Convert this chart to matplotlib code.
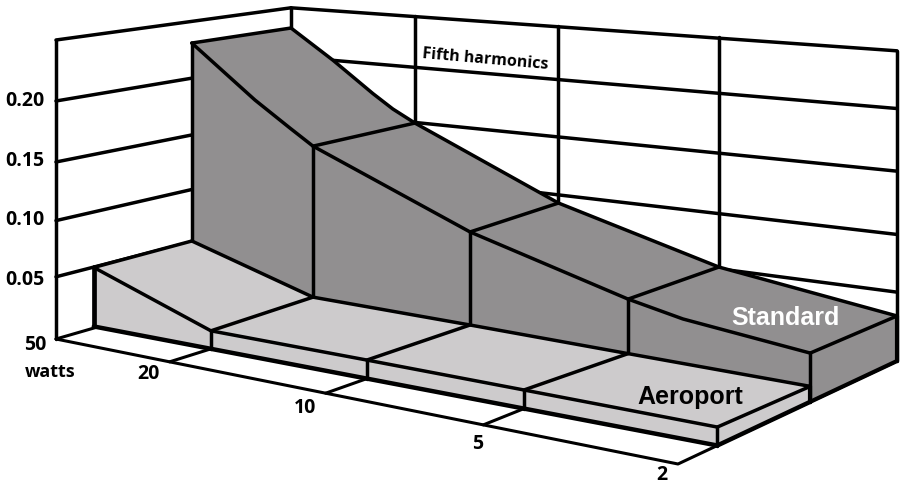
import numpy as np
import matplotlib
matplotlib.use('Agg')
import matplotlib.pyplot as plt


# Categories and axis labels
watts = ['50', '20', '10', '5', '2']
value_ticks = ['0.05', '0.10', '0.15', '0.20']

# Wall levels (the two walls do not agree exactly in the drawing)
left_wall_levels = [0.052, 0.099, 0.148, 0.199, 0.25]
back_wall_levels = [0.0555, 0.102, 0.153, 0.2035, 0.25]

# Position of each category along the floor, at each depth
u_front = [-0.007, 0.2274, 0.502, 0.743, 1.0]
u_mid = [-0.009, 0.233, 0.51, 0.754, 1.0]
u_back = [0.0, 0.247, 0.502, 0.754, 1.0]

# Depth of the rows
v_front = 0.16
v_mid = 0.57
v_back = 1.0

# Aeroport values
aeroport_front = [0.0505, 0.0148, 0.0145, 0.0139, 0.0131]
aeroport_back = [0.0512, 0.0182, 0.0162, 0.0139, 0.0117]

# Standard values, with a few extra points where the curve bends
standard_front_u = [-0.009, 0.1205, 0.189, 0.233, 0.51, 0.754, 0.8317, 1.0]
standard_front = [0.2298, 0.1841, 0.1627, 0.1492, 0.0932, 0.0571, 0.048, 0.0369]
standard_back_u = [0.0, 0.0868, 0.1664, 0.205, 0.247, 0.502, 0.754, 1.0]
standard_back = [0.2308, 0.2034, 0.1755, 0.1630, 0.1521, 0.0945, 0.0568, 0.0363]

# Column of each category in the standard curves
front_cols = [0, 3, 4, 5, 7]
back_cols = [0, 4, 5, 6, 7]

dark = '#918f90'
light = '#cdcbcc'


# Floor corners in pixels: front left, front right, back right, back left
corners = [(56, 339), (678, 464), (897, 361), (291, 271)]
(x0, y0), (x1, y1), (x2, y2), (x3, y3) = corners
den = (x1 - x2) * (y3 - y2) - (x3 - x2) * (y1 - y2)
sx = x0 - x1 + x2 - x3
sy = y0 - y1 + y2 - y3
g = (sx * (y3 - y2) - (x3 - x2) * sy) / den
h = ((x1 - x2) * sy - sx * (y1 - y2)) / den


def project(u, v, z=0.0):
    w = 1 + g * u + h * v
    x = ((x1 - x0 + g * x1) * u + (x3 - x0 + h * x3) * v + x0) / w
    y = ((y1 - y0 + g * y1) * u + (y3 - y0 + h * y3) * v + y0) / w
    return x, y - z * 1196 / (1 - 0.172 * u + 0.136 * v)


def row(us, v, zs=None):
    if zs is None:
        zs = [0.0] * len(us)
    return [project(u, v, z) for u, z in zip(us, zs)]


def line(pts, lw=2.5, zorder=3):
    xs, ys = zip(*pts)
    ax.plot(xs, ys, color='black', lw=lw, zorder=zorder,
            solid_capstyle='round', solid_joinstyle='round')


def patch(pts, color, zorder):
    xs, ys = zip(*pts)
    ax.fill(xs, ys, color=color, lw=0, zorder=zorder)


fig = plt.figure(figsize=(9, 4.87), dpi=100)
ax = fig.add_axes([0, 0, 1, 1])
ax.set_xlim(0, 900)
ax.set_ylim(487, 0)
ax.axis('off')


# Walls and grid
for level in left_wall_levels:
    line([project(0, 0, level), project(0, 1, level)], zorder=1)
for level in back_wall_levels:
    line([project(0, 1, level), project(1, 1, level)], zorder=1)
line([project(0, 0, 0), project(0, 0, 0.25)], zorder=1)
for u in u_back:
    line([project(u, 1, 0), project(u, 1, 0.25)], zorder=1)

# Floor and ticks
line([project(0, 0), project(1, 0), project(1, 1)], lw=2.2, zorder=1)
line([project(0, 0), project(0, v_front)], lw=2.2, zorder=1)
for u in u_front[1:-1]:
    line([project(u, 0), project(u, v_front)], lw=2.2, zorder=1)

# Standard block
top_front = row(standard_front_u, v_mid, standard_front)
top_back = row(standard_back_u, v_back, standard_back)
base_mid = row(standard_front_u, v_mid)
patch(top_front + top_back[::-1], dark, 2)
patch(top_front + base_mid[::-1], dark, 2)
patch([project(1, v_mid, standard_front[-1]), project(1, v_back, standard_back[-1]),
       project(1, v_back), project(1, v_mid)], dark, 2)
line(top_front)
line(top_back)
line([project(1, v_mid), project(1, v_back), project(1, v_back, standard_back[-1])], lw=3, zorder=3)
for i, j in zip(front_cols, back_cols):
    line([top_front[i], top_back[j]])
    line([top_front[i], base_mid[i]])

# Aeroport block
strip_front_top = row(u_front, v_front, aeroport_front)
strip_back_top = row(u_mid, v_mid, aeroport_back)
strip_base = row(u_front, v_front)
patch(strip_front_top + strip_back_top[::-1], light, 4)
patch(strip_front_top + strip_base[::-1], light, 4)
patch([strip_front_top[-1], strip_back_top[-1], project(1, v_mid), strip_base[-1]], light, 4)
line(strip_front_top, zorder=5)
line(strip_back_top, zorder=5)
line(strip_base, lw=3.2, zorder=5)
line([strip_base[-1], project(1, v_mid)], lw=3.2, zorder=5)
for i in range(5):
    line([strip_front_top[i], strip_back_top[i]], zorder=5)
    line([strip_front_top[i], strip_base[i]], lw=3.4 if i == 0 else 2.5, zorder=5)
line([strip_back_top[-1], project(1, v_mid)], lw=3, zorder=5)


# Text
tick_font = dict(family='Open Sans', fontweight='bold', color='black', va='center')
for label, y in zip(value_ticks, [280, 220, 161, 101]):
    ax.text(5, y, label, fontsize=14, ha='left', **tick_font)
for label, x, y in zip(watts, [24, 137, 294, 472, 656], [345, 374, 408, 444, 475]):
    ax.text(x, y, label, fontsize=14, ha='left', **tick_font)
ax.text(25, 372, 'watts', fontsize=13, ha='left', **tick_font)
ax.text(422, 54, 'Fifth harmonics', fontsize=11.5, ha='left', rotation=-5,
        rotation_mode='anchor', **tick_font)
ax.text(637, 397, 'Aeroport', family='Liberation Sans', fontweight='bold', fontsize=18,
        color='black', va='center', zorder=6)
ax.text(731, 318, 'Standard', family='Liberation Sans', fontweight='bold', fontsize=18,
        color='white', va='center', zorder=6)

fig.savefig('out.png', dpi=100)
